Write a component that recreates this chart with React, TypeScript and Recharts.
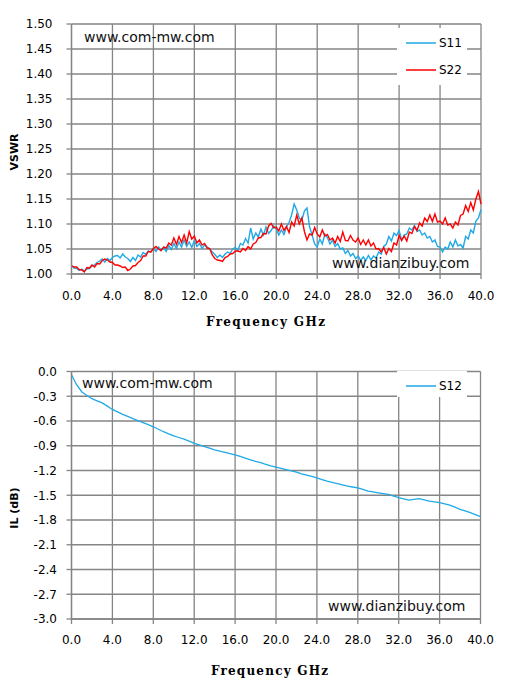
import React from 'react';
import { LineChart, Line, XAxis, YAxis, CartesianGrid, Legend } from 'recharts';

// Frequency ticks (GHz)
const freqTicks = [0, 4, 8, 12, 16, 20, 24, 28, 32, 36, 40];
const vswrTicks = [1.0, 1.05, 1.1, 1.15, 1.2, 1.25, 1.3, 1.35, 1.4, 1.45, 1.5];
const ilTicks = [0, -0.3, -0.6, -0.9, -1.2, -1.5, -1.8, -2.1, -2.4, -2.7, -3.0];

// VSWR S11 sampled every 0.25 GHz from 0 to 40 GHz
const s11 = [
  1.016, 1.012, 1.011, 1.007, 1.010, 1.006, 1.010, 1.011, 1.016, 1.018,
  1.023, 1.026, 1.030, 1.024, 1.031, 1.027, 1.033, 1.036, 1.037, 1.032,
  1.040, 1.034, 1.031, 1.025, 1.033, 1.027, 1.038, 1.034, 1.043, 1.039,
  1.046, 1.044, 1.051, 1.045, 1.054, 1.047, 1.053, 1.045, 1.057, 1.049,
  1.061, 1.051, 1.064, 1.054, 1.068, 1.055, 1.064, 1.053, 1.067, 1.055,
  1.061, 1.051, 1.058, 1.054, 1.050, 1.044, 1.039, 1.033, 1.038, 1.033,
  1.040, 1.044, 1.041, 1.050, 1.053, 1.047, 1.061, 1.058, 1.071, 1.062,
  1.092, 1.070, 1.082, 1.074, 1.090, 1.078, 1.094, 1.081, 1.087, 1.096,
  1.090, 1.078, 1.088, 1.079, 1.094, 1.103, 1.118, 1.140, 1.128, 1.112,
  1.107, 1.126, 1.132, 1.095, 1.078, 1.060, 1.054, 1.070, 1.060, 1.080,
  1.073, 1.060, 1.068, 1.055, 1.061, 1.050, 1.052, 1.041, 1.047, 1.036,
  1.041, 1.031, 1.036, 1.027, 1.034, 1.027, 1.037, 1.028, 1.036, 1.032,
  1.044, 1.040, 1.055, 1.060, 1.075, 1.066, 1.082, 1.077, 1.087, 1.068,
  1.078, 1.080, 1.092, 1.088, 1.097, 1.085, 1.088, 1.078, 1.082, 1.072,
  1.075, 1.064, 1.068, 1.055, 1.054, 1.044, 1.054, 1.050, 1.064, 1.054,
  1.068, 1.056, 1.059, 1.052, 1.075, 1.070, 1.088, 1.082, 1.106, 1.112,
  1.129,
];

// VSWR S22 sampled every 0.25 GHz from 0 to 40 GHz
const s22 = [
  1.017, 1.014, 1.014, 1.009, 1.008, 1.004, 1.013, 1.012, 1.018, 1.014,
  1.021, 1.020, 1.027, 1.030, 1.028, 1.024, 1.023, 1.018, 1.018, 1.016,
  1.013, 1.014, 1.007, 1.010, 1.016, 1.017, 1.023, 1.027, 1.036, 1.036,
  1.045, 1.044, 1.051, 1.055, 1.050, 1.047, 1.054, 1.052, 1.062, 1.058,
  1.072, 1.059, 1.075, 1.063, 1.078, 1.062, 1.085, 1.070, 1.076, 1.062,
  1.068, 1.058, 1.061, 1.052, 1.051, 1.038, 1.031, 1.028, 1.027, 1.025,
  1.033, 1.035, 1.040, 1.041, 1.046, 1.046, 1.044, 1.051, 1.047, 1.055,
  1.050, 1.060, 1.063, 1.072, 1.073, 1.081, 1.080, 1.096, 1.101, 1.092,
  1.094, 1.086, 1.100, 1.087, 1.095, 1.083, 1.104, 1.096, 1.118, 1.100,
  1.112, 1.085, 1.068, 1.080, 1.078, 1.093, 1.080, 1.074, 1.088, 1.076,
  1.079, 1.068, 1.072, 1.062, 1.075, 1.065, 1.084, 1.067, 1.066, 1.077,
  1.068, 1.064, 1.072, 1.059, 1.068, 1.058, 1.068, 1.056, 1.062, 1.050,
  1.051, 1.044, 1.053, 1.040, 1.051, 1.045, 1.062, 1.058, 1.077, 1.067,
  1.076, 1.066, 1.084, 1.081, 1.095, 1.087, 1.102, 1.096, 1.112, 1.105,
  1.118, 1.105, 1.120, 1.104, 1.106, 1.100, 1.112, 1.098, 1.100, 1.092,
  1.104, 1.098, 1.117, 1.120, 1.137, 1.125, 1.143, 1.128, 1.150, 1.165,
  1.140,
];

// Insertion loss S12 (dB) sampled every 0.5 GHz from 0 to 40 GHz
const s12 = [
  -0.04, -0.16, -0.245, -0.29, -0.33, -0.355, -0.38, -0.42, -0.46, -0.49,
  -0.52, -0.545, -0.57, -0.595, -0.62, -0.645, -0.67, -0.70, -0.73, -0.755,
  -0.78, -0.80, -0.82, -0.845, -0.87, -0.89, -0.91, -0.93, -0.95, -0.965,
  -0.98, -0.995, -1.01, -1.03, -1.05, -1.07, -1.09, -1.105, -1.125, -1.145,
  -1.16, -1.175, -1.19, -1.205, -1.22, -1.24, -1.255, -1.27, -1.29, -1.31,
  -1.33, -1.345, -1.36, -1.375, -1.39, -1.40, -1.41, -1.43, -1.45, -1.46,
  -1.47, -1.48, -1.49, -1.51, -1.53, -1.545, -1.56, -1.55, -1.54, -1.555,
  -1.57, -1.58, -1.59, -1.605, -1.62, -1.645, -1.67, -1.69, -1.71, -1.735,
  -1.76,
];

const vswrData = s11.map((v, i) => ({ f: i * 0.25, s11: v, s22: s22[i] }));
const ilData = s12.map((v, i) => ({ f: i * 0.5, s12: v }));

const BLUE = '#1fa9e6';
const RED = '#ff0000';
const GRID = '#858585';
const FONT = 'DejaVu Sans';

const tickStyle = { fill: '#000', fontSize: 12, fontFamily: FONT };

type Item = { name: string; color: string };

const makeLegend = (items: Item[], height: number) => () => (
  <div style={{ width: 70, height, background: '#fff', position: 'relative' }}>
    {items.map((it, i) => (
      <div key={it.name} style={{ position: 'absolute', left: 9, top: 15 + i * 27 - 8, height: 16, display: 'flex', alignItems: 'center' }}>
        <svg width={31} height={16} style={{ display: 'block' }}>
          <line x1={0} x2={30} y1={8} y2={8} stroke={it.color} strokeWidth={1.5} />
        </svg>
        <span style={{ fontFamily: FONT, fontSize: 12, color: '#000', marginLeft: 2, lineHeight: '16px' }}>{it.name}</span>
      </div>
    ))}
  </div>
);

export default function App() {
  return (
    <div style={{ position: 'absolute', left: 0, top: 0, width: 518, height: 687, background: '#fff', fontFamily: FONT }}>
      <div style={{ position: 'absolute', left: 0, top: 0 }}>
        <LineChart width={518} height={340} data={vswrData} margin={{ top: 24, right: 37, bottom: 36, left: 0 }}>
          <CartesianGrid stroke={GRID} strokeWidth={1.3} />
          <XAxis
            dataKey="f"
            type="number"
            domain={[0, 40]}
            ticks={freqTicks}
            interval={0}
            tickFormatter={(v: number) => v.toFixed(1)}
            height={30}
            tickSize={5}
            tickMargin={12}
            tick={tickStyle}
            axisLine={{ stroke: GRID, strokeWidth: 1.3 }}
            tickLine={{ stroke: GRID, strokeWidth: 1.3 }}
          />
          <YAxis
            type="number"
            domain={[1.0, 1.5]}
            ticks={vswrTicks}
            interval={0}
            allowDataOverflow
            tickFormatter={(v: number) => v.toFixed(2)}
            width={71.5}
            tickSize={5}
            tickMargin={14}
            tick={tickStyle}
            axisLine={{ stroke: GRID, strokeWidth: 1.3 }}
            tickLine={{ stroke: GRID, strokeWidth: 1.3 }}
          />
          <Legend
            layout="vertical"
            align="center"
            verticalAlign="middle"
            content={makeLegend([{ name: 'S11', color: BLUE }, { name: 'S22', color: RED }], 57)}
            wrapperStyle={{ position: 'absolute', left: 397, top: 28, width: 70, height: 57, margin: 0 }}
          />
          <Line type="linear" dataKey="s11" stroke={BLUE} strokeWidth={1.4} dot={false} isAnimationActive={false} />
          <Line type="linear" dataKey="s22" stroke={RED} strokeWidth={1.4} dot={false} isAnimationActive={false} />
        </LineChart>
      </div>
      <div style={{ position: 'absolute', left: 0, top: 340 }}>
        <LineChart width={518} height={347} data={ilData} margin={{ top: 31.5, right: 37.5, bottom: 38, left: 0 }}>
          <CartesianGrid stroke={GRID} strokeWidth={1.3} />
          <XAxis
            dataKey="f"
            type="number"
            domain={[0, 40]}
            ticks={freqTicks}
            interval={0}
            tickFormatter={(v: number) => v.toFixed(1)}
            height={30}
            tickSize={5}
            tickMargin={11.5}
            tick={tickStyle}
            axisLine={{ stroke: GRID, strokeWidth: 1.3 }}
            tickLine={{ stroke: GRID, strokeWidth: 1.3 }}
          />
          <YAxis
            type="number"
            domain={[-3, 0]}
            ticks={ilTicks}
            interval={0}
            allowDataOverflow
            tickFormatter={(v: number) => v.toFixed(1)}
            width={71.5}
            tickSize={5}
            tickMargin={9.5}
            tick={tickStyle}
            axisLine={{ stroke: GRID, strokeWidth: 1.3 }}
            tickLine={{ stroke: GRID, strokeWidth: 1.3 }}
          />
          <Legend
            layout="vertical"
            align="center"
            verticalAlign="middle"
            content={makeLegend([{ name: 'S12', color: BLUE }], 26)}
            wrapperStyle={{ position: 'absolute', left: 397, top: 31, width: 70, height: 26, margin: 0 }}
          />
          <Line type="linear" dataKey="s12" stroke={BLUE} strokeWidth={1.3} dot={false} isAnimationActive={false} />
        </LineChart>
      </div>
      <svg width={518} height={687} style={{ position: 'absolute', left: 0, top: 0, pointerEvents: 'none' }}>
        <text x={84} y={42} fontFamily={FONT} fontSize={14} fill="#111">www.com-mw.com</text>
        <text x={332} y={268} fontFamily={FONT} fontSize={14} fill="#111">www.dianzibuy.com</text>
        <text x={82} y={388} fontFamily={FONT} fontSize={14} fill="#111">www.com-mw.com</text>
        <text x={328} y={611} fontFamily={FONT} fontSize={14} fill="#111">www.dianzibuy.com</text>
        <text x={206} y={326} fontFamily="DejaVu Serif" fontWeight="bold" fontSize={12} fill="#000" textLength={119} lengthAdjust="spacing">Frequency GHz</text>
        <text x={211} y={675} fontFamily="DejaVu Serif" fontWeight="bold" fontSize={12} fill="#000" textLength={117} lengthAdjust="spacing">Frequency GHz</text>
        <text x={0} y={0} transform="translate(18,152) rotate(-90)" textAnchor="middle" fontFamily={FONT} fontWeight="bold" fontSize={11} fill="#000">VSWR</text>
        <text x={0} y={0} transform="translate(18,508) rotate(-90)" textAnchor="middle" fontFamily={FONT} fontWeight="bold" fontSize={11} fill="#000">IL (dB)</text>
      </svg>
    </div>
  );
}
